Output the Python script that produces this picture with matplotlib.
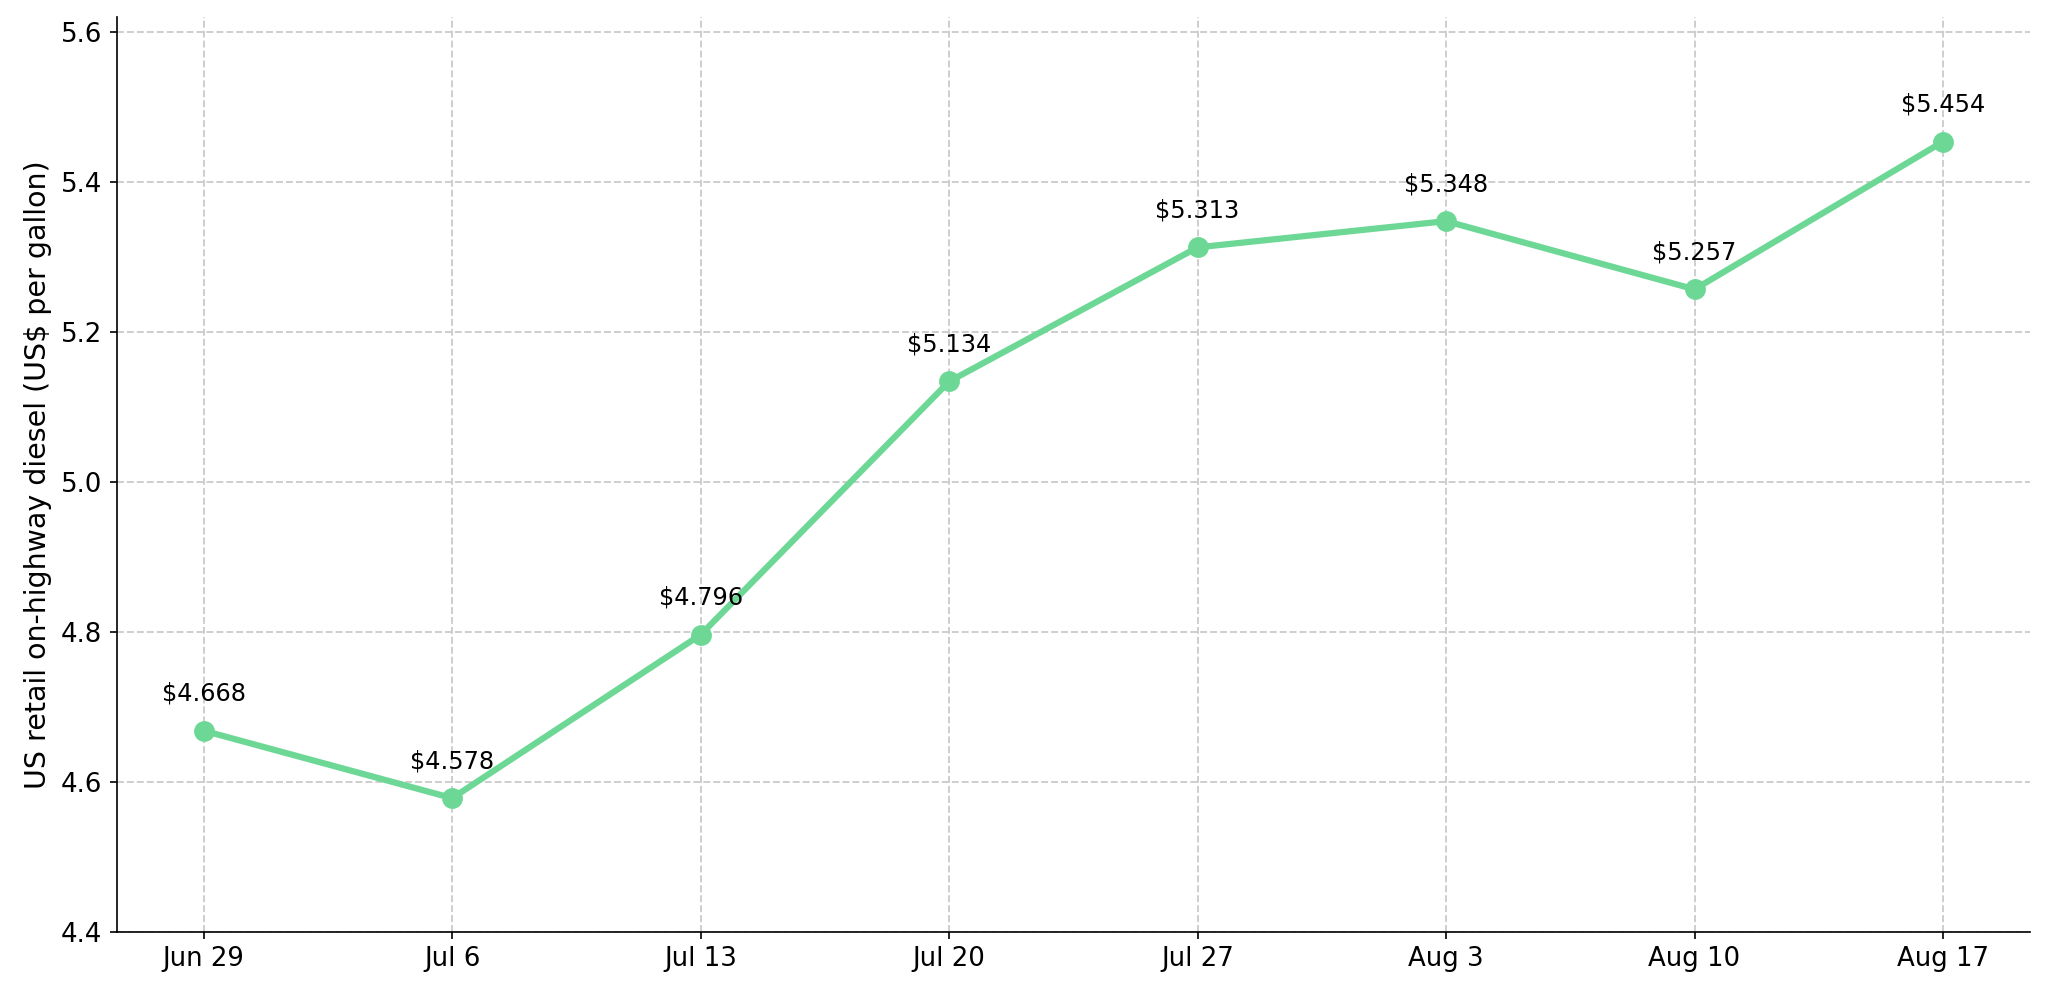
import matplotlib
matplotlib.use("Agg")
import matplotlib.pyplot as plt

dates = ["Jun 29", "Jul 6", "Jul 13", "Jul 20", "Jul 27", "Aug 3", "Aug 10", "Aug 17"]
prices = [4.668, 4.578, 4.796, 5.134, 5.313, 5.348, 5.257, 5.454]
y_label = "US retail on-highway diesel (US$ per gallon)"

fig = plt.figure(figsize=(2048 / 150, 995 / 150), dpi=150)
ax = fig.add_axes([0.057, 0.0638, 0.9912 - 0.057, 0.9826 - 0.0638])

x = list(range(len(dates)))
ax.plot(x, prices, color="#6dd895", linewidth=3, marker="o", markersize=9, zorder=3)

for xi, p in zip(x, prices):
    ax.annotate(f"${p:.3f}", (xi, p), xytext=(0, 12), textcoords="offset points",
                ha="center", va="bottom", fontsize=11.5)

ax.set_xticks(x)
ax.set_xticklabels(dates, fontsize=12.5)
ax.set_xlim(-0.35, 7.35)
ax.set_ylim(4.4, 5.62)
ax.set_yticks([4.4, 4.6, 4.8, 5.0, 5.2, 5.4, 5.6])
ax.tick_params(axis="y", labelsize=12.5)
ax.set_ylabel(y_label, fontsize=13.7)
ax.grid(True, linestyle="--", color="#cccccc", linewidth=0.9)
ax.set_axisbelow(True)
ax.spines["top"].set_visible(False)
ax.spines["right"].set_visible(False)

fig.savefig("out.png", dpi=150)
